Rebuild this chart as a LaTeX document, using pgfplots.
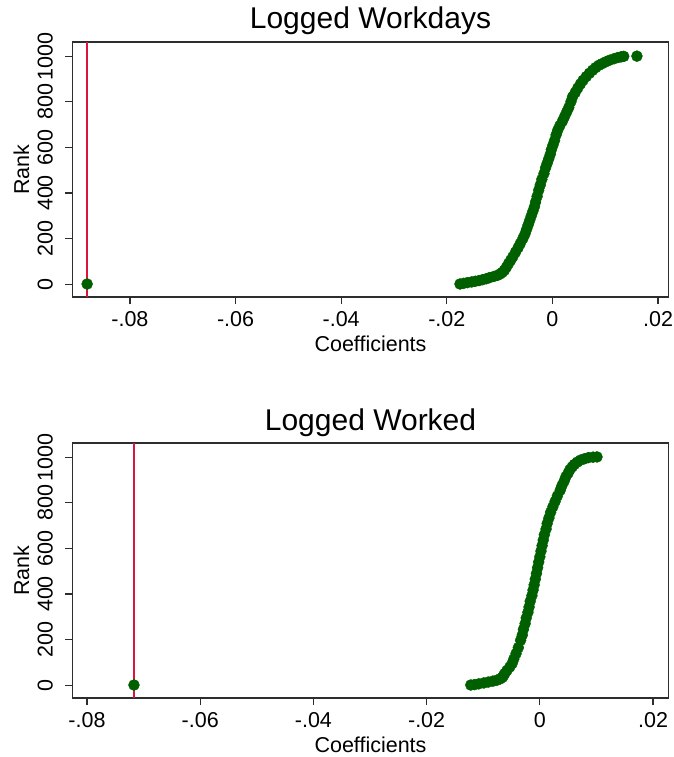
\documentclass[border=0pt]{standalone}
\usepackage{pgfplots}
\pgfplotsset{compat=1.18}
\usepackage{fontspec}
\setmainfont{Liberation Sans}

\definecolor{dotgreen}{RGB}{0,96,0}
\definecolor{refred}{RGB}{218,20,62}
\definecolor{framegray}{RGB}{45,45,45}

\pgfplotsset{
  rankplot/.style={
    scale only axis, width=596pt, height=255pt,
    anchor=north west,
    ymin=-56, ymax=1062,
    ytick={0,200,400,600,800,1000},
    yticklabels={0,200,400,600,800,1000},
    xtick={-0.08,-0.06,-0.04,-0.02,0,0.02},
    xticklabels={-.08,-.06,-.04,-.02,0,.02},
    scaled x ticks=false, scaled y ticks=false,
    tick align=outside, xtick pos=left, ytick pos=left,
    major tick length=7pt,
    tick style={framegray, line width=1.2pt},
    axis line style={framegray, line width=1.2pt},
    tick label style={font=\fontsize{21.5}{24}\selectfont},
    xticklabel style={anchor=north, inner sep=0pt, yshift=-7pt},
    yticklabel style={rotate=90, anchor=south, inner xsep=0pt, inner ysep=12.5pt},
    label style={font=\fontsize{21.5}{24}\selectfont},
    xlabel={Coefficients}, ylabel={Rank},
    xlabel style={at={(axis description cs:0.5,0)}, anchor=base, inner sep=0pt, yshift=-54pt},
    ylabel style={at={(axis description cs:0,0.5)}, anchor=south, inner xsep=0pt, inner ysep=43pt},
    title style={at={(axis description cs:0.5,1)}, anchor=base, inner sep=0pt, yshift=7pt,
                 font=\fontsize{30}{34}\selectfont},
  },
  rankdots/.style={only marks, mark=*, mark size=5.5pt,
    mark options={draw=dotgreen, fill=dotgreen}},
  refline/.style={refred, line width=1.6pt},
}

\begin{document}
\begin{tikzpicture}
\path[use as bounding box] (0,0) rectangle (673pt,-757pt);

% Logged workdays: placebo coefficients ranked, actual estimate marked in red
\begin{axis}[rankplot, at={(72.5pt,-42pt)},
  xmin=-0.09087, xmax=0.02198, title={Logged Workdays}]
\addplot[refline] coordinates {(-0.0881,-56) (-0.0881,1062)};
\addplot[rankdots] coordinates {
(-0.0881,1)
(-0.0175,1) (-0.0168,4) (-0.0161,7) (-0.0153,10) (-0.0146,13) (-0.0139,16)
(-0.0132,20) (-0.0125,24) (-0.0119,29) (-0.0111,34) (-0.0104,39) (-0.0099,45)
(-0.0095,52) (-0.0091,61) (-0.0087,75) (-0.0083,91) (-0.0079,105) (-0.0075,120)
(-0.0070,140) (-0.0065,160) (-0.0061,178) (-0.0056,200) (-0.0052,220) (-0.0049,240)
(-0.0046,260) (-0.0043,280) (-0.0040,300) (-0.0037,320) (-0.0034,340) (-0.0032,360)
(-0.0029,385) (-0.0026,412) (-0.0023,435) (-0.0020,460) (-0.0016,485) (-0.0013,510)
(-0.0010,530) (-0.0007,550) (-0.0004,570) (-0.0002,590) (0.0001,610) (0.0004,630)
(0.0007,655) (0.0010,675) (0.0014,695) (0.0019,715) (0.0023,735) (0.0027,755)
(0.0031,775) (0.0035,800) (0.0038,821) (0.0043,840) (0.0048,860) (0.0053,878)
(0.0058,894) (0.0064,910) (0.0070,925) (0.0076,938) (0.0082,950) (0.0088,960)
(0.0094,967) (0.0101,975) (0.0108,982) (0.0117,989) (0.0124,994) (0.0130,997)
(0.0135,999) (0.0160,1000)
};
\end{axis}

% Logged worked
\begin{axis}[rankplot, at={(72.5pt,-443pt)},
  xmin=-0.08256, xmax=0.02273, title={Logged Worked}]
\addplot[refline] coordinates {(-0.0717,-56) (-0.0717,1062)};
\addplot[rankdots] coordinates {
(-0.0717,1)
(-0.0122,1) (-0.0115,3) (-0.0108,6) (-0.0099,10) (-0.0091,14) (-0.0083,18)
(-0.0076,22) (-0.0070,28) (-0.0066,35) (-0.0064,43) (-0.0062,51) (-0.0058,65)
(-0.0053,80) (-0.0049,95) (-0.0046,115) (-0.0042,139) (-0.0038,165) (-0.0034,197)
(-0.0031,220) (-0.0029,245) (-0.0026,270) (-0.0024,295) (-0.0021,320) (-0.0019,343)
(-0.0017,368) (-0.0014,393) (-0.0012,417) (-0.0010,440) (-0.0008,465) (-0.0006,490)
(-0.0004,515) (-0.0002,540) (0.0000,563) (0.0002,588) (0.0004,612) (0.0006,636)
(0.0008,660) (0.0011,685) (0.0013,709) (0.0016,733) (0.0019,758) (0.0023,782)
(0.0027,806) (0.0031,830) (0.0036,855) (0.0039,875) (0.0043,895) (0.0046,914)
(0.0050,930) (0.0053,945) (0.0057,957) (0.0061,968) (0.0066,978) (0.0072,987)
(0.0079,993) (0.0086,998) (0.0094,1000) (0.0101,1001)
};
\end{axis}
\end{tikzpicture}
\end{document}
